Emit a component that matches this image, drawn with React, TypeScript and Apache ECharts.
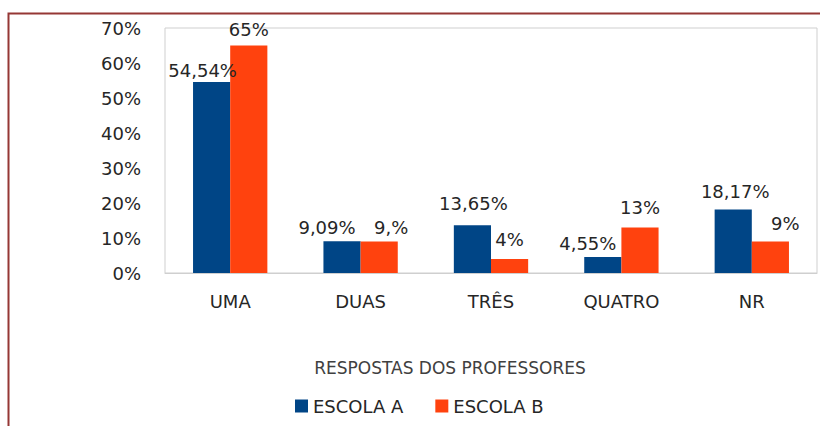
import React, { useEffect, useRef } from "react";
import * as echarts from "echarts";

const categories = ["UMA", "DUAS", "TRÊS", "QUATRO", "NR"];
const escolaA = [54.54, 9.09, 13.65, 4.55, 18.17];
const escolaB = [65, 9, 4, 13, 9];
const labelsA = ["54,54%", "9,09%", "13,65%", "4,55%", "18,17%"];
const labelsB = ["65%", "9,%", "4%", "13%", "9%"];
const yTicks = [0, 10, 20, 30, 40, 50, 60, 70];

const offsetsA = [[-9, 2], [-15, 0], [1, -8], [-15, 0], [2, -4]];
const offsetsB = [[0, -2], [12, 0], [0, -6], [0, -6], [15, -4]];

const FONT = "DejaVu Sans";

export default function App() {
  const ref = useRef<HTMLDivElement>(null);
  useEffect(() => {
    if (!ref.current) return;
    const chart = echarts.init(ref.current, null, { renderer: "svg" });
    const labelStyle = { fontFamily: FONT, fontSize: 18, color: "#262626" };
    chart.setOption({
      animation: false,
      backgroundColor: "#ffffff",
      grid: {
        left: 165,
        top: 28,
        right: 3,
        bottom: 153,
        show: true,
        borderColor: "#cfcfcf",
        borderWidth: 1,
      },
      xAxis: {
        type: "category",
        data: categories,
        axisLine: { lineStyle: { color: "#cfcfcf" } },
        axisTick: { show: false },
        axisLabel: { fontFamily: FONT, fontSize: 18, color: "#262626", margin: 19 },
        name: "RESPOSTAS DOS PROFESSORES",
        nameLocation: "middle",
        nameGap: 86,
        nameTextStyle: {
          fontFamily: FONT,
          fontSize: 17,
          color: "#404040",
          padding: [0, 82, 0, 0],
        },
      },
      yAxis: {
        type: "value",
        min: yTicks[0],
        max: yTicks[yTicks.length - 1],
        interval: 10,
        axisLine: { show: false },
        axisTick: { show: false },
        splitLine: { show: false },
        axisLabel: {
          fontFamily: FONT,
          fontSize: 18,
          color: "#262626",
          margin: 24,
          formatter: "{value}%",
        },
      },
      legend: {
        left: 290,
        top: 392,
        icon: "rect",
        itemWidth: 13,
        itemHeight: 13,
        itemGap: 32,
        textStyle: { fontFamily: FONT, fontSize: 18, color: "#262626" },
        data: ["ESCOLA A", "ESCOLA B"],
      },
      series: [
        {
          name: "ESCOLA A",
          type: "bar",
          barGap: "0%",
          barCategoryGap: "43%",
          itemStyle: { color: "#004586" },
          data: escolaA.map((v, i) => ({
            value: v,
            label: { offset: offsetsA[i] },
          })),
          label: {
            show: true,
            position: "top",
            distance: 5,
            ...labelStyle,
            formatter: (p: any) => labelsA[p.dataIndex],
          },
        },
        {
          name: "ESCOLA B",
          type: "bar",
          itemStyle: { color: "#ff420e" },
          data: escolaB.map((v, i) => ({
            value: v,
            label: { offset: offsetsB[i] },
          })),
          label: {
            show: true,
            position: "top",
            distance: 5,
            ...labelStyle,
            formatter: (p: any) => labelsB[p.dataIndex],
          },
        },
      ],
      graphic: [
        {
          type: "rect",
          shape: { x: 8.5, y: 13.5, width: 830, height: 430 },
          style: { fill: "none", stroke: "#953735", lineWidth: 2 },
          silent: true,
        },
      ],
    });
    return () => chart.dispose();
  }, []);
  return (
    <div
      ref={ref}
      style={{ position: "fixed", left: 0, top: 0, width: 820, height: 426 }}
    />
  );
}
